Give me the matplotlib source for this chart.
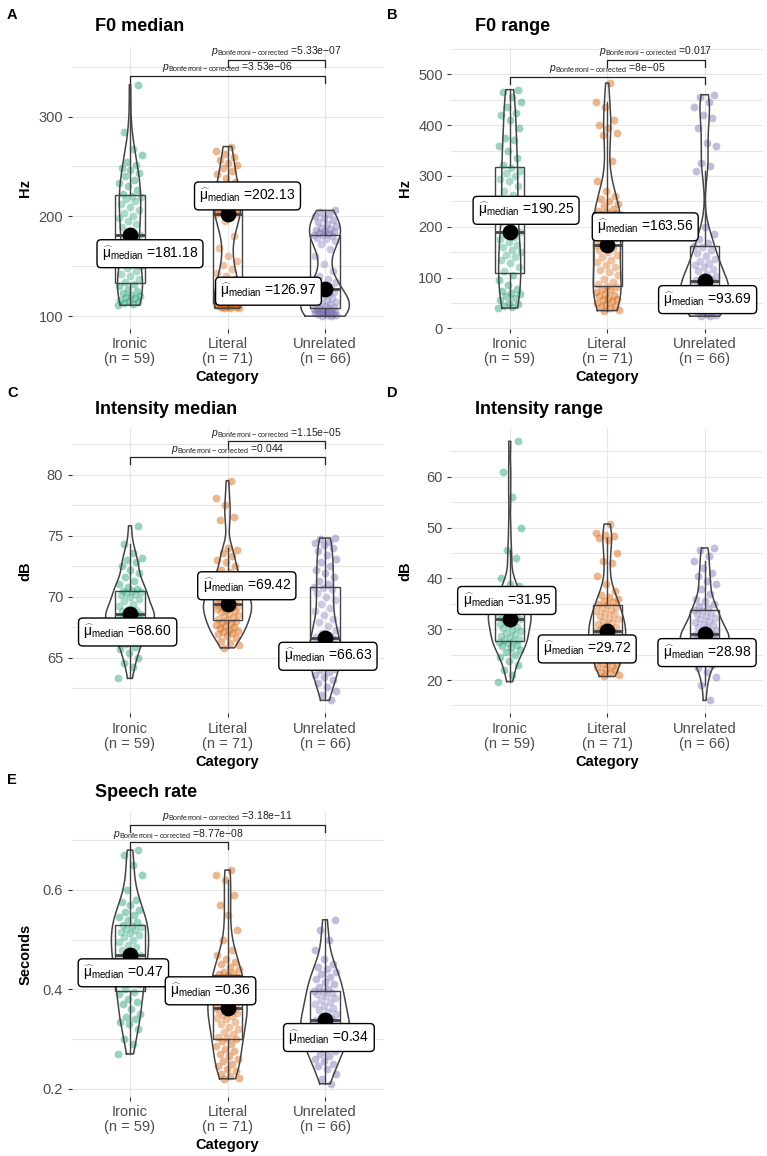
import numpy as np
import matplotlib
matplotlib.use("Agg")
import matplotlib.pyplot as plt

plt.rcParams['font.family'] = ['Liberation Sans', 'DejaVu Sans']
plt.rcParams['mathtext.fontset'] = 'custom'
plt.rcParams['mathtext.rm'] = 'Liberation Sans'
plt.rcParams['mathtext.it'] = 'Liberation Sans:italic'
plt.rcParams['mathtext.bf'] = 'Liberation Sans:bold'

categories = ['Ironic', 'Literal', 'Unrelated']
colors = ['#1B9E77', '#D95F02', '#7570B3']

# ---- F0 median (Hz)
f0_median_ironic = [111, 112, 113, 114, 115, 116, 118, 119, 120, 121, 123, 125, 127, 130, 132,
                    134, 137, 140, 142, 145, 148, 150, 152, 155, 158, 162, 168, 174, 179,
                    181.18,
                    185, 189, 192, 195, 198, 200, 203, 206, 209, 212, 215, 217, 219, 220,
                    222, 226, 230, 233, 236, 240, 243, 246, 248, 251, 255, 262, 268, 285, 332]
f0_median_literal = [108, 108.3, 108.6, 108.9, 109.2, 109.5, 109.8, 110.1, 110.4, 110.7, 111, 111.3,
                     111.6, 111.9, 112.2, 112.5, 112.8, 113.1, 113.4,
                     116, 120, 125, 128, 131, 134, 137, 140, 143, 147, 151, 155, 160, 168, 180, 195,
                     202.13,
                     202.5, 203, 203.5, 204, 204.5, 205, 205.5, 206, 206.5, 207, 207.5, 208, 208.5,
                     209, 209.5, 210, 210.5, 211,
                     213, 218, 222, 226, 230, 234, 238, 242, 245, 248, 251, 254, 257, 260, 263, 266, 270]
f0_median_unrelated = [100, 100.5, 101, 101.5, 102, 102.5, 103, 103.5, 104, 104.5, 105, 105.5, 106,
                       106.5, 107, 107.5, 108,
                       108.5, 109, 110, 111, 112, 113, 114, 115, 116, 118, 120, 121, 122, 123, 124, 126,
                       127.94,
                       129, 131, 134, 137, 140, 145, 152, 160, 167, 172, 175, 177, 178, 180, 181,
                       181.5, 182, 183, 184, 185, 186, 187, 188, 190, 192, 194, 196, 198, 200, 202, 204, 206]

# ---- F0 range (Hz)
f0_range_ironic = [40, 42, 44, 47, 50, 55, 60, 63, 67, 70, 73, 78, 85, 95, 105,
                   113, 120, 128, 135, 140, 145, 150, 155, 160, 165, 170, 175, 180, 186,
                   190.25,
                   200, 210, 225, 240, 255, 262, 270, 280, 290, 295, 300, 305, 310, 315,
                   322, 335, 350, 360, 370, 375, 395, 410, 420, 425, 435, 445, 455, 465, 470]
f0_range_literal = [35, 37, 40, 42, 45, 48, 50, 53, 55, 58, 60, 63, 65, 68, 72, 75, 78, 82,
                    84, 88, 92, 98, 105, 110, 115, 120, 125, 130, 135, 140, 145, 150, 155, 158, 161,
                    163.56,
                    168, 172, 178, 185, 190, 195, 200, 205, 210, 213, 216, 219, 221, 223, 225, 227, 229, 231,
                    235, 240, 245, 250, 255, 260, 270, 290, 330, 380, 385, 395, 400, 410, 435, 445, 483]
f0_range_unrelated = [24, 25, 26, 28, 30, 32, 34, 36, 38, 40, 42, 45, 48, 50, 53, 56, 59,
                      62, 65, 68, 70, 72, 74, 76, 78, 80, 82, 84, 86, 88, 90, 92, 93,
                      94.38,
                      97, 100, 104, 108, 112, 116, 120, 124, 128, 132, 137, 142, 148, 155, 160,
                      162, 168, 175, 185, 200, 310, 320, 325, 360, 365, 395, 415, 420, 435, 445, 455, 460]

# ---- Intensity median (dB)
int_median_ironic = [63.3, 64.2, 64.6, 65.0, 65.4, 65.7, 65.9, 66.1, 66.3, 66.5, 66.7, 66.9, 67.0, 67.2, 67.4,
                     67.6, 67.7, 67.8, 67.9, 68.0, 68.1, 68.15, 68.2, 68.3, 68.35, 68.4, 68.45, 68.5, 68.55,
                     68.6,
                     68.7, 68.8, 68.9, 69.0, 69.2, 69.4, 69.6, 69.8, 70.0, 70.1, 70.2, 70.3, 70.4, 70.45,
                     70.5, 70.6, 70.8, 71.0, 71.3, 71.6, 71.9, 72.2, 72.5, 72.8, 73.0, 73.2, 73.6, 74.3, 75.8]
int_median_literal = [65.8, 66.0, 66.2, 66.4, 66.6, 66.8, 66.9, 67.0, 67.1, 67.2, 67.3, 67.4, 67.5, 67.6,
                      67.7, 67.8, 67.9, 68.0,
                      68.1, 68.2, 68.3, 68.4, 68.5, 68.6, 68.7, 68.8, 68.9, 69.0, 69.05, 69.1, 69.15,
                      69.2, 69.25, 69.3, 69.35,
                      69.42,
                      69.5, 69.6, 69.7, 69.8, 69.9, 70.0, 70.1, 70.2, 70.3, 70.4, 70.5, 70.6, 70.7,
                      70.8, 70.9, 71.0, 71.1, 71.2,
                      71.4, 71.6, 71.8, 72.0, 72.2, 72.5, 72.8, 73.0, 73.3, 73.6, 73.8, 74.0, 76.3,
                      76.5, 77.5, 78.1, 79.5]
int_median_unrelated = [61.5, 61.9, 62.3, 62.6, 62.9, 63.2, 63.4, 63.6, 63.8, 64.0, 64.1, 64.2, 64.3,
                        64.4, 64.5, 64.6, 64.7,
                        64.8, 64.9, 65.0, 65.2, 65.4, 65.6, 65.8, 65.9, 66.0, 66.1, 66.2, 66.3, 66.4,
                        66.5, 66.55, 66.6,
                        66.66,
                        66.8, 67.0, 67.3, 67.6, 67.9, 68.2, 68.5, 68.8, 69.1, 69.4, 69.7, 70.0, 70.3, 70.6, 70.7,
                        70.8, 71.0, 71.3, 71.6, 71.9, 72.2, 72.5, 72.8, 73.1, 73.4, 73.7, 74.0, 74.2,
                        74.4, 74.5, 74.7, 74.8]

# ---- Intensity range (dB)
int_range_ironic = [19.7, 21.0, 22.0, 23.0, 23.8, 24.5, 25.0, 25.5, 26.0, 26.3, 26.6, 26.9, 27.2, 27.4, 27.6,
                    27.8, 28.1, 28.4, 28.7, 29.0, 29.3, 29.6, 29.9, 30.2, 30.5, 30.8, 31.1, 31.4, 31.7,
                    31.95,
                    32.1, 32.3, 32.5, 32.7, 32.9, 33.1, 33.3, 33.5, 33.7, 33.9, 34.1, 34.3, 34.5, 34.7,
                    35.0, 35.5, 36.0, 37.0, 37.5, 38.0, 38.5, 39.0, 40.0, 44.0, 45.5, 50.0, 56.0, 61.0, 67.0]
int_range_literal = [20.7, 21.0, 21.3, 21.6, 21.9, 22.2, 22.5, 22.8, 23.1, 23.4, 23.7, 24.0, 24.3, 24.6,
                     24.9, 25.2, 25.5, 25.8,
                     26.1, 26.4, 26.7, 27.0, 27.3, 27.6, 27.9, 28.2, 28.5, 28.7, 28.9, 29.1, 29.3,
                     29.4, 29.5, 29.6, 29.7,
                     29.72,
                     29.9, 30.2, 30.5, 30.8, 31.1, 31.4, 31.7, 32.0, 32.3, 32.6, 32.9, 33.2, 33.5,
                     33.8, 34.1, 34.4, 34.7, 35.0,
                     35.3, 35.6, 36.0, 36.4, 36.8, 37.5, 39.0, 40.5, 43.0, 43.5, 45.0, 47.5, 48.0,
                     48.3, 48.6, 49.0, 50.7]
int_range_unrelated = [16.0, 19.0, 20.5, 21.5, 22.3, 23.0, 23.6, 24.1, 24.5, 24.9, 25.2, 25.5, 25.8,
                       26.0, 26.2, 26.4, 26.6,
                       26.8, 27.0, 27.2, 27.4, 27.6, 27.8, 28.0, 28.1, 28.2, 28.3, 28.4, 28.5, 28.6,
                       28.7, 28.8, 28.9,
                       29.06,
                       29.3, 29.6, 29.9, 30.2, 30.5, 30.8, 31.1, 31.4, 31.7, 32.0, 32.3, 32.6, 32.9, 33.2, 33.6,
                       33.8, 34.2, 34.6, 35.0, 35.5, 36.0, 37.0, 38.0, 39.0, 39.5, 40.5, 41.0, 42.0,
                       43.5, 44.5, 45.5, 46.0]

# ---- Speech rate (seconds)
rate_ironic = [0.27, 0.29, 0.30, 0.32, 0.33, 0.335, 0.34, 0.345, 0.35, 0.36, 0.37, 0.375, 0.38, 0.39, 0.395,
               0.40, 0.41, 0.415, 0.42, 0.425, 0.43, 0.435, 0.44, 0.445, 0.45, 0.455, 0.46, 0.462, 0.466,
               0.47,
               0.475, 0.48, 0.485, 0.49, 0.495, 0.50, 0.505, 0.51, 0.513, 0.516, 0.519, 0.522, 0.525, 0.527,
               0.53, 0.535, 0.54, 0.545, 0.55, 0.555, 0.56, 0.57, 0.575, 0.58, 0.60, 0.63, 0.65, 0.67, 0.68]
rate_literal = [0.22, 0.222, 0.225, 0.23, 0.235, 0.24, 0.245, 0.25, 0.255, 0.26, 0.265, 0.27, 0.275,
                0.28, 0.285, 0.29, 0.295, 0.30,
                0.302, 0.305, 0.31, 0.315, 0.32, 0.325, 0.33, 0.335, 0.34, 0.343, 0.346, 0.349,
                0.352, 0.354, 0.356, 0.358, 0.36,
                0.362,
                0.365, 0.368, 0.371, 0.374, 0.377, 0.38, 0.383, 0.386, 0.39, 0.395, 0.40, 0.405,
                0.41, 0.415, 0.42, 0.425, 0.428, 0.43,
                0.432, 0.435, 0.44, 0.445, 0.45, 0.455, 0.46, 0.47, 0.48, 0.50, 0.52, 0.55, 0.57,
                0.59, 0.62, 0.63, 0.64]
rate_unrelated = [0.21, 0.22, 0.23, 0.24, 0.245, 0.25, 0.255, 0.26, 0.265, 0.27, 0.275, 0.28, 0.283,
                  0.286, 0.289, 0.292, 0.295,
                  0.298, 0.301, 0.304, 0.307, 0.31, 0.313, 0.316, 0.319, 0.322, 0.325, 0.328, 0.331,
                  0.333, 0.335, 0.336, 0.337,
                  0.339,
                  0.342, 0.346, 0.35, 0.354, 0.358, 0.362, 0.366, 0.37, 0.374, 0.378, 0.382, 0.386,
                  0.39, 0.393, 0.395,
                  0.397, 0.40, 0.405, 0.41, 0.415, 0.42, 0.425, 0.43, 0.435, 0.44, 0.445, 0.45, 0.46,
                  0.48, 0.50, 0.52, 0.54]

# pairwise comparisons: (group a, group b, bracket height, p label)
f0_median_pairs = [(1, 3, 340.6, '3.53e\u221206'), (2, 3, 357.2, '5.33e\u221207')]
f0_range_pairs = [(1, 3, 494.8, '8e\u221205'), (2, 3, 529.3, '0.017')]
int_median_pairs = [(1, 3, 81.42, '0.044'), (2, 3, 82.73, '1.15e\u221205')]
int_range_pairs = []
rate_pairs = [(1, 2, 0.6958, '8.77e\u221208'), (1, 3, 0.7313, '3.18e\u221211')]

W, H = 767, 1156
fig = plt.figure(figsize=(W / 100, H / 100), dpi=100)


def rect(l, t, r, b):
    return [l / W, 1 - b / H, (r - l) / W, (b - t) / H]


def kde(v):
    v = np.asarray(v, float)
    n = len(v)
    q75, q25 = np.percentile(v, [75, 25])
    bw = 0.9 * min(v.std(ddof=1), (q75 - q25) / 1.34) * n ** -0.2
    grid = np.linspace(v.min(), v.max(), 512)
    d = np.exp(-0.5 * ((grid[:, None] - v[None, :]) / bw) ** 2).sum(1) / (n * bw * np.sqrt(2 * np.pi))
    return grid, d


def panel(box, groups, pairs, yticks, ylabel, title, letter, label_xy, fig_xy):
    ax = fig.add_axes(rect(*box))
    dens = [kde(g) for g in groups]
    dmax = max(d.max() for _, d in dens)
    for i, g in enumerate(groups):
        x0 = i + 1
        g = np.asarray(g, float)
        k = np.arange(len(g))
        jit = 0.12 * (2 * ((k * 0.6180339 + 0.37 * i) % 1) - 1)
        ax.scatter(x0 + jit, g, s=32, color=colors[i], alpha=0.45, lw=0, zorder=2)
        ax.boxplot([g], positions=[x0], widths=0.3, patch_artist=True, showcaps=False,
                   showfliers=False, manage_ticks=False, zorder=3,
                   boxprops=dict(facecolor=(1, 1, 1, 0.2), edgecolor='#444444', lw=1),
                   whiskerprops=dict(color='#444444', lw=1),
                   medianprops=dict(color='#444444', lw=2))
        grid, d = dens[i]
        hw = 0.25 * d / dmax
        ax.plot(np.r_[x0 - hw, (x0 + hw)[::-1], x0 - hw[0]],
                np.r_[grid, grid[::-1], grid[0]], color='#444444', lw=1.1, zorder=4)
        med = np.median(g)
        ax.scatter([x0], [med], s=130, color='black', lw=0, zorder=6)
        lx, ly = label_xy[i]
        ax.text(lx, ly, r'$\widehat{\mathrm{\mu}}_{\mathrm{median}}$ =' + f'{med:.2f}', ha='center',
                va='center', fontsize=10, zorder=8,
                bbox=dict(boxstyle='round,pad=0.35,rounding_size=0.3', fc='white', ec='black', lw=1))

    allv = np.concatenate([np.asarray(g, float) for g in groups])
    lo, hi = allv.min(), max([allv.max()] + [p[2] for p in pairs])
    pad = 0.05 * (hi - lo)
    ax.set_ylim(lo - pad, hi + pad)
    ax.set_xlim(0.4, 3.6)
    tip = 0.025 * (hi - lo + 2 * pad)
    for a, b, h, txt in pairs:
        ax.plot([a, a, b, b], [h - tip, h, h, h - tip], color='#222222', lw=0.9, zorder=5)
        ax.annotate(r'$p_{\mathrm{Bonferroni-corrected}}$ =' + txt, ((a + b) / 2, h),
                    xytext=(0, 1.2), textcoords='offset points', ha='center', va='bottom',
                    fontsize=7.5, color='#222222')

    major, minor = yticks
    ax.set_yticks(major)
    ax.set_yticklabels([f'{t:g}' for t in major])
    ax.set_yticks(minor, minor=True)
    ax.set_xticks([1, 2, 3])
    ax.set_xticklabels([f'{c}\n(n = {len(g)})' for c, g in zip(categories, groups)],
                       linespacing=1.1)
    ax.grid(True, which='both', color='#e6e6e6', lw=0.8)
    ax.set_axisbelow(True)
    for s in ax.spines.values():
        s.set_visible(False)
    ax.tick_params(which='minor', length=0)
    ax.tick_params(which='major', length=3, width=0.8, color='#333333', labelcolor='#4d4d4d',
                   labelsize=10.5, pad=3)

    l, t, r, b = box
    tx, ty, lx0, ly0 = fig_xy
    fig.text(lx0 / W, 1 - ly0 / H, letter, fontsize=10.5, fontweight='bold', va='center')
    fig.text(tx / W, 1 - ty / H, title, fontsize=13, fontweight='bold', va='center')
    fig.text((l - 46) / W, 1 - (t + b) / 2 / H, ylabel, rotation=90, fontsize=10.5,
             fontweight='bold', ha='center', va='center')
    fig.text((l + (r - l) / 2) / W, 1 - (b + 48.5) / H, 'Category', fontsize=10.5,
             fontweight='bold', ha='center', va='center')
    return ax


panel((71.5, 46.7, 383.5, 329), [f0_median_ironic, f0_median_literal, f0_median_unrelated],
      f0_median_pairs, ([100, 200, 300], [150, 250, 350]), 'Hz', 'F0 median', 'A',
      [(1.205, 162.6), (2.205, 220.5), (2.42, 125)], (95, 26.7, 7, 15))
panel((451.2, 46.7, 763.2, 329), [f0_range_ironic, f0_range_literal, f0_range_unrelated],
      f0_range_pairs, ([0, 100, 200, 300, 400, 500], [50, 150, 250, 350, 450, 550]), 'Hz',
      'F0 range', 'B', [(1.168, 232.4), (2.39, 199.9), (3.03, 56.6)], (474.7, 26.7, 387, 15))
panel((71.5, 428.3, 383.5, 713.3), [int_median_ironic, int_median_literal, int_median_unrelated],
      int_median_pairs, ([65, 70, 75, 80], [62.5, 67.5, 72.5, 77.5, 82.5]), 'dB',
      'Intensity median', 'C', [(0.976, 67.1), (2.198, 70.89), (3.03, 65.11)], (95, 410, 7, 393.3))
panel((451.2, 428.3, 763.2, 713.3), [int_range_ironic, int_range_literal, int_range_unrelated],
      int_range_pairs, ([20, 30, 40, 50, 60], [15, 25, 35, 45, 55, 65]), 'dB',
      'Intensity range', 'D', [(0.97, 35.66), (1.795, 26.12), (3.024, 25.4)], (474.7, 410, 387, 393.3))
panel((71.5, 811.7, 383.5, 1096.7), [rate_ironic, rate_literal, rate_unrelated],
      rate_pairs, ([0.2, 0.4, 0.6], [0.3, 0.5, 0.7]), 'Seconds', 'Speech rate', 'E',
      [(0.932, 0.4332), (1.826, 0.397), (3.04, 0.303)], (95, 792.3, 7, 780))

fig.savefig('out.png', dpi=100)
